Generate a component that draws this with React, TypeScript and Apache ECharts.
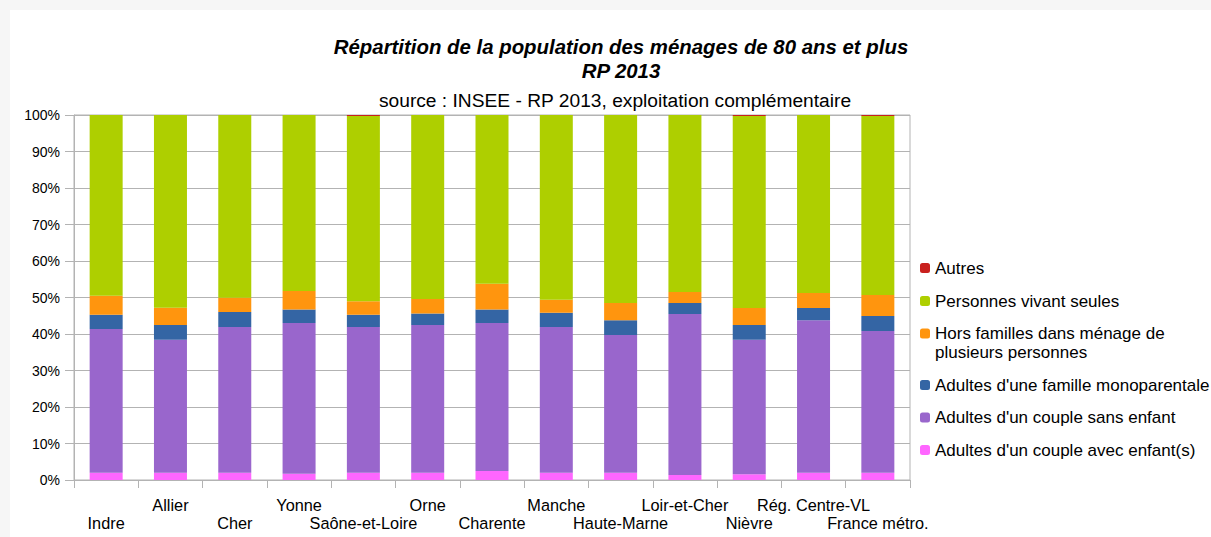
import React, { useEffect, useRef } from "react";
import * as echarts from "echarts";

const categories = [
  "Indre", "Allier", "Cher", "Yonne", "Saône-et-Loire", "Orne", "Charente",
  "Manche", "Haute-Marne", "Loir-et-Cher", "Nièvre", "Rég. Centre-VL", "France métro.",
];

const avecEnfants = [2.0, 2.0, 2.0, 1.7, 2.0, 2.0, 2.5, 2.0, 2.0, 1.4, 1.6, 2.0, 2.0];
const sansEnfant = [39.4, 36.4, 39.9, 41.3, 39.9, 40.5, 40.5, 39.9, 37.7, 44.1, 36.8, 41.8, 38.8];
const monoparentale = [3.9, 4.1, 4.1, 3.7, 3.4, 3.1, 3.7, 3.9, 4.1, 3.0, 4.1, 3.3, 4.1];
const horsFamilles = [5.2, 4.7, 3.9, 5.1, 3.7, 4.0, 7.1, 3.6, 4.7, 3.0, 4.6, 4.1, 5.8];
const vivantSeules = [49.5, 52.8, 50.1, 48.2, 50.7, 50.4, 46.2, 50.6, 51.5, 48.5, 52.6, 48.8, 49.0];
const autres = [0, 0, 0, 0, 0.3, 0, 0, 0, 0, 0, 0.3, 0, 0.3];

const yTicks = ["0%", "10%", "20%", "30%", "40%", "50%", "60%", "70%", "80%", "90%", "100%"];

const seriesNames = [
  "Adultes d'un couple avec enfant(s)",
  "Adultes d'un couple sans enfant",
  "Adultes d'une famille monoparentale",
  "Hors familles dans ménage de plusieurs personnes",
  "Personnes vivant seules",
  "Autres",
];
const seriesData = [avecEnfants, sansEnfant, monoparentale, horsFamilles, vivantSeules, autres];
const colors = ["#ff66ff", "#9966cc", "#3465a4", "#ff950e", "#aecf00", "#c9211e"];

const FONT = "'Liberation Sans', Arial, sans-serif";

export default function App() {
  const ref = useRef<HTMLDivElement>(null);
  useEffect(() => {
    if (!ref.current) return;
    const chart = echarts.init(ref.current, null, { renderer: "svg" });
    const legendTextStyle = { fontFamily: FONT, fontSize: 17, lineHeight: 19, color: "#000" };
    const legendTops: Record<string, number> = {
      "Autres": 248.5,
      "Personnes vivant seules": 281.5,
      "Hors familles dans ménage de plusieurs personnes": 295,
      "Adultes d'une famille monoparentale": 365.5,
      "Adultes d'un couple sans enfant": 398,
      "Adultes d'un couple avec enfant(s)": 430.5,
    };
    const legends = seriesNames.map((n) => {
      const multi = n.startsWith("Hors");
      return {
        data: [n],
        left: 910,
        top: legendTops[n],
        orient: "vertical",
        padding: 0,
        itemWidth: 10,
        itemHeight: 10,
        selectedMode: false,
        formatter: multi ? () => "\nHors familles dans ménage de\nplusieurs personnes" : undefined,
        textStyle: legendTextStyle,
      };
    });
    chart.setOption({
      animation: false,
      backgroundColor: "#ffffff",
      title: [
        {
          text: "Répartition de la population des ménages de 80 ans et plus\nRP 2013",
          left: 611,
          top: 25,
          textAlign: "center",
          padding: 0,
          textStyle: {
            fontFamily: FONT,
            fontSize: 20.4,
            fontWeight: "bold",
            fontStyle: "italic",
            lineHeight: 24,
            color: "#000",
          },
        },
        {
          text: "source : INSEE - RP 2013, exploitation complémentaire",
          left: 605,
          top: 79,
          textAlign: "center",
          padding: 0,
          textStyle: { fontFamily: FONT, fontSize: 19.2, fontWeight: "normal", color: "#000", lineHeight: 22 },
        },
      ],
      legend: legends,
      grid: {
        left: 64,
        right: 301,
        top: 105,
        bottom: 57,
        show: true,
        borderColor: "#b3b3b3",
        borderWidth: 1,
        backgroundColor: "transparent",
      },
      xAxis: {
        type: "category",
        data: categories,
        axisLine: { lineStyle: { color: "#b3b3b3" } },
        axisTick: { show: true, length: 8, lineStyle: { color: "#b3b3b3" } },
        axisLabel: {
          interval: 0,
          margin: 16,
          fontFamily: FONT,
          fontSize: 16.3,
          lineHeight: 18,
          color: "#000",
          formatter: (v: string, i: number) => (i % 2 === 0 ? "\n" + v : v),
        },
      },
      yAxis: {
        type: "value",
        min: 0,
        max: 100,
        interval: 10,
        axisLine: { show: true, lineStyle: { color: "#b3b3b3" } },
        axisTick: { show: true, length: 9, lineStyle: { color: "#b3b3b3" } },
        splitLine: { lineStyle: { color: "#b3b3b3" } },
        axisLabel: {
          margin: 14,
          fontFamily: FONT,
          fontSize: 14,
          color: "#000",
          formatter: (v: number) => yTicks[Math.round(v / 10)],
        },
      },
      series: seriesNames.map((n, i) => ({
        name: n,
        type: "bar",
        stack: "total",
        barWidth: 33,
        data: seriesData[i],
        itemStyle: { color: colors[i] },
      })),
    });
    return () => chart.dispose();
  }, []);
  return (
    <div style={{ position: "absolute", left: 0, top: 0, width: 1211, height: 537, background: "#f6f6f6" }}>
      <div ref={ref} style={{ position: "absolute", left: 10, top: 10, width: 1201, height: 527 }} />
    </div>
  );
}
